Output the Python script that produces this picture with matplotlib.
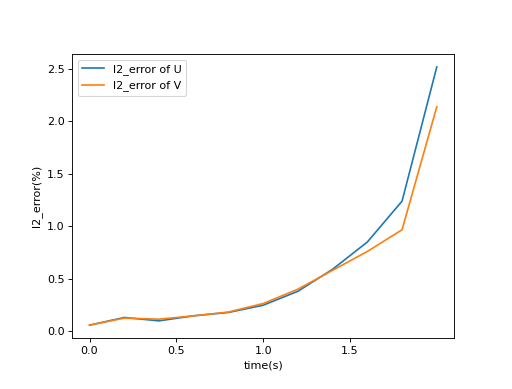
import numpy as np
import matplotlib
matplotlib.use('Agg')
import matplotlib.pyplot as plt

# time points (s)
time = [0.0, 0.2, 0.4, 0.6, 0.8, 1.0, 1.2, 1.4, 1.6, 1.8, 2.0]
# l2 errors (%)
err_u = [0.057, 0.13, 0.098, 0.146, 0.178, 0.247, 0.38, 0.59, 0.85, 1.24, 2.52]
err_v = [0.057, 0.124, 0.114, 0.146, 0.182, 0.263, 0.40, 0.58, 0.76, 0.967, 2.14]
xtick_vals = [0.0, 0.5, 1.0, 1.5]

fig = plt.figure(figsize=(6.4, 4.8625), dpi=80)
fig.subplots_adjust(left=0.141, right=0.887, bottom=0.131, top=0.861)
ax = fig.add_subplot(111)

ax.plot(time, err_u, label='l2_error of U')
ax.plot(time, err_v, label='l2_error of V')
ax.set_xticks(xtick_vals)
ax.set_xlabel('time(s)')
ax.set_ylabel('l2_error(%)')
ax.legend(loc='upper left')

fig.savefig('out.png', dpi=80)
